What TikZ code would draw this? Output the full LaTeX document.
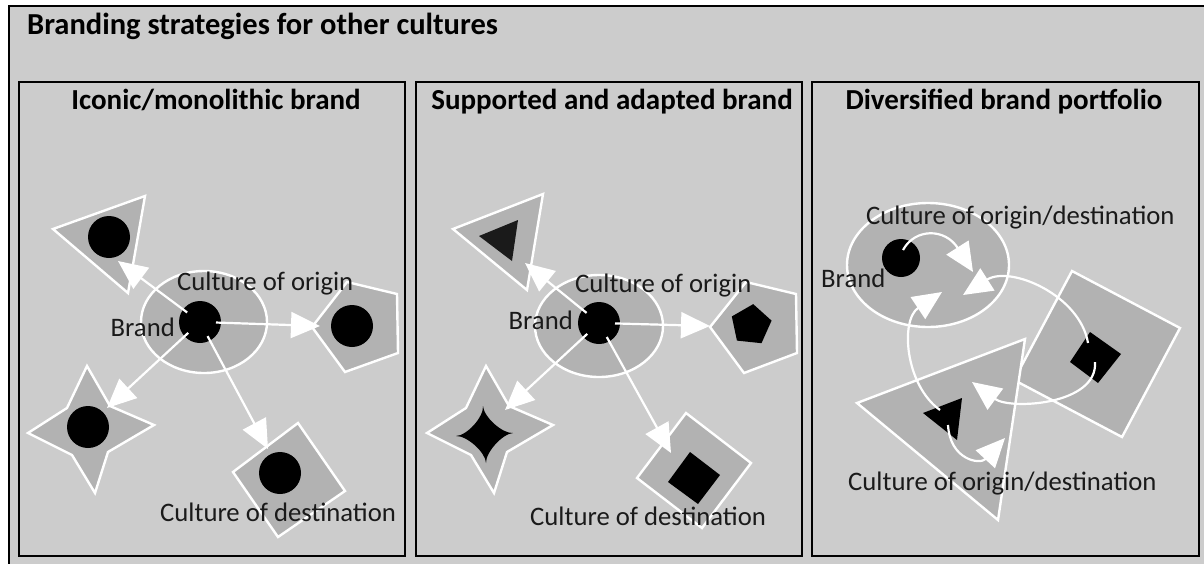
\documentclass[tikz,border=0pt]{standalone}
\usepackage{fontspec}
\setmainfont{Carlito}
\usetikzlibrary{arrows.meta,calc,shapes.geometric}
\definecolor{panelgrey}{HTML}{CCCCCC}
\definecolor{shapegrey}{HTML}{B2B2B2}
\definecolor{inkdark}{HTML}{1A1A1A}
\begin{document}
\begin{tikzpicture}[x=1pt,y=-1pt,
  culture/.style={fill=shapegrey,draw=white,line width=2.4pt,line join=miter},
  brandmark/.style={circle,fill=black,inner sep=0pt,minimum size=42pt},
  flow/.style={draw=white,line width=2.2pt,-{Triangle[length=29pt,width=26pt]}},
  label/.style={font=\fontsize{26.7}{30}\selectfont,inner sep=0pt,text=inkdark},
  heading/.style={font=\fontsize{29}{34}\selectfont\bfseries,inner sep=0pt},
  panel/.style={draw=black,line width=1.2pt}]

\useasboundingbox (0,0) rectangle (1204,563);
\fill[white] (0,0) rectangle (1204,563);
\clip (0,0) rectangle (1204,563);

% outer frame
\draw[fill=panelgrey,line width=1.6pt] (9,6) rectangle (1215,575);
\node[font=\fontsize{30.5}{36}\selectfont\bfseries,inner sep=0pt,anchor=base west] (title) at (27,34) {Branding strategies for other cultures};

% ---------- Iconic / monolithic brand ----------
\draw[panel] (19,82) rectangle (405,556);
\node[heading,anchor=base] (h1) at (216,109) {Iconic/monolithic brand};
\draw[culture] (53,229) -- (145,196) -- (128,293) -- cycle;
\node[brandmark] (p1a) at (109,237) {};
\draw[culture] (347,282) -- (397,294) -- (398,353) -- (345,372) -- (312,327) -- cycle;
\node[brandmark] (p1b) at (352,326) {};
\draw[culture] (87,366) -- (110,406) -- (154,425) -- (108,452) -- (95,493) -- (72,455) -- (28,433) -- (67,408) -- cycle;
\node[brandmark] (p1c) at (88,427) {};
\draw[culture] (298,423) -- (345,491) -- (278,537) -- (233,472) -- cycle;
\node[brandmark] (p1d) at (280,473) {};
\draw[culture] (204,322) ellipse [x radius=63,y radius=51];
\node[brandmark] (b1) at (200,322) {};
\coordinate (t1a) at (118,261);
\coordinate (t1b) at (320,326);
\coordinate (t1c) at (107,408);
\coordinate (t1d) at (268,449);
\foreach \t in {t1a,t1b,t1c,t1d} \draw[flow,shorten <=16pt] (b1.center) -- (\t);
\node[label,anchor=base west] (o1) at (177,290) {Culture of origin};
\node[label,anchor=base east] (n1) at (175,336) {Brand};
\node[label,anchor=base west] (d1) at (160,521) {Culture of destination};

% ---------- Supported and adapted brand ----------
\draw[panel] (416,82) rectangle (802,556);
\node[heading,anchor=base] (h2) at (612,109) {Supported and adapted brand};
\draw[culture] (453,229) -- (543,194) -- (527,290) -- cycle;
\fill[inkdark] (479,236) -- (518,220) -- (512,261) -- cycle;
\draw[culture] (746,282) -- (796,294) -- (797,353) -- (744,373) -- (710,327) -- cycle;
\node[regular polygon,regular polygon sides=5,fill=black,inner sep=0pt,minimum size=42pt,rotate=-6] (p2b) at (751,325) {};
\draw[culture] (486,366) -- (509,406) -- (553,425) -- (507,452) -- (494,493) -- (471,455) -- (427,433) -- (466,408) -- cycle;
\coordinate (sc) at (485,435);
\coordinate (sT) at (483,406);
\coordinate (sR) at (513,433);
\coordinate (sB) at (486,463);
\coordinate (sL) at (456,436);
\fill[black] (sT) .. controls ($(sc)!.62!(sT)$) and ($(sc)!.62!(sR)$) .. (sR)
  .. controls ($(sc)!.62!(sR)$) and ($(sc)!.62!(sB)$) .. (sB)
  .. controls ($(sc)!.62!(sB)$) and ($(sc)!.62!(sL)$) .. (sL)
  .. controls ($(sc)!.62!(sL)$) and ($(sc)!.62!(sT)$) .. (sT) -- cycle;
\draw[culture] (686,413) -- (751,463) -- (702,528) -- (637,478) -- cycle;
\fill[black] (690,452) -- (720,475) -- (698,504) -- (668,482) -- cycle;
\draw[culture] (599,326) ellipse [x radius=64,y radius=51];
\node[brandmark] (b2) at (599,323) {};
\coordinate (t2a) at (525,263);
\coordinate (t2b) at (710,326);
\coordinate (t2c) at (505,410);
\coordinate (t2d) at (671,453);
\foreach \t in {t2a,t2b,t2c,t2d} \draw[flow,shorten <=16pt] (b2.center) -- (\t);
\node[label,anchor=base west] (o2) at (575,292) {Culture of origin};
\node[label,anchor=base east] (n2) at (573,329) {Brand};
\node[label,anchor=base west] (d2) at (530,525) {Culture of destination};

% ---------- Diversified brand portfolio ----------
\draw[panel] (812,82) rectangle (1199,556);
\node[heading,anchor=base] (h3) at (1004,109) {Diversified brand portfolio};
\draw[culture] (928,265) ellipse [x radius=81,y radius=62];
\node[brandmark,minimum size=38pt] (b3) at (901,258) {};
\draw[culture] (1072,271) -- (1180,328) -- (1122,437) -- (1014,380) -- cycle;
\fill[black] (1090,332) -- (1121,354) -- (1098,383) -- (1070,362) -- cycle;
\draw[culture] (1025,339) -- (857,403) -- (998,520) -- cycle;
\fill[black] (923,413) -- (962,398) -- (957,440) -- cycle;
% start points inside the marks
\coordinate (f1) at (903,250);
\coordinate (f2) at (1088,343);
\coordinate (f3) at (940,410);
\coordinate (f4) at (1095,362);
\coordinate (f5) at (948,425);
% arrow tips
\coordinate (e1) at (973,272);
\coordinate (e2) at (963,295);
\coordinate (e3) at (942,292);
\coordinate (e4) at (972,382);
\coordinate (e5) at (1005,438);
\draw[flow] (f1) .. controls (915,228) and (945,228) .. (e1);
\draw[flow] (f2) .. controls (1080,295) and (1010,265) .. (e2);
\draw[flow] (f3) .. controls (905,385) and (900,320) .. (e3);
\draw[flow] (f4) .. controls (1098,405) and (1010,410) .. (e4);
\draw[flow] (f5) .. controls (950,460) and (980,465) .. (e5);
\node[label,anchor=base west] (o3) at (866,224) {Culture of origin/destination};
\node[label,anchor=base west] (n3) at (821,287) {Brand};
\node[label,anchor=base west] (d3) at (848,490) {Culture of origin/destination};
\end{tikzpicture}
\end{document}
